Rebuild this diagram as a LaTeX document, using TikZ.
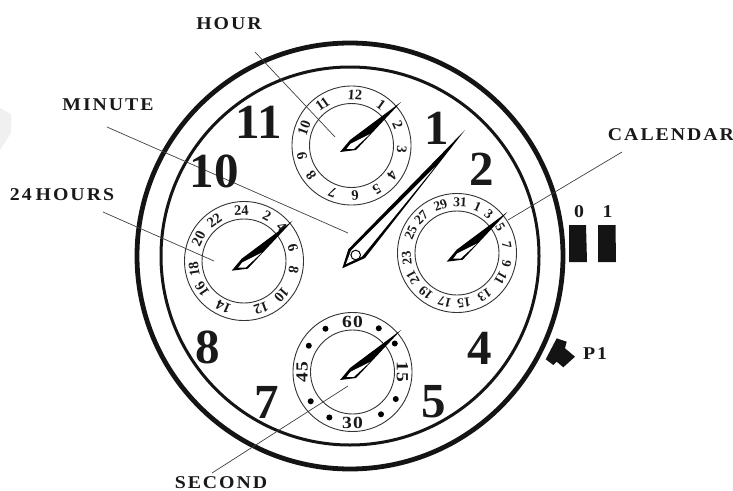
\documentclass[tikz,border=0pt]{standalone}
\usepackage{fontspec}
\setmainfont{Liberation Serif}
\newfontfamily\lblfont[FakeStretch=1.1,LetterSpace=11]{Liberation Serif Bold}
\newfontfamily\secfont[FakeStretch=1.15,LetterSpace=8]{Liberation Serif Bold}
\usetikzlibrary{calc}
\newcommand{\dialnums}[3]{%
  \foreach \a/\t in {#3}{\node[dialnum,rotate=-\a] at ($(#1,#2)+({sin(\a)*50.5},{-cos(\a)*50.5})$) {\t};}}
\newcommand{\subhand}[2]{%
  \begin{scope}[shift={(#1,#2)}]
    \fill[black] (0,0)--(10,-12)--(61,-50)--(16,-2)--cycle;
    \fill[white] (6.5,-3)--(10.5,-8.2)--(30,-18)--(14,-3.2)--cycle;
  \end{scope}}
\tikzset{
  dialring/.style={draw=black!80,line width=0.9pt},
  dialnum/.style={font=\fontsize{14.5}{14.5}\selectfont\bfseries,inner sep=0pt,text=black!90},
  secnum/.style={font=\fontsize{17}{17}\secfont,inner sep=0pt,text=black!90},
  bignum/.style={font=\fontsize{49}{49}\selectfont\bfseries,inner sep=0pt,text=black!90},
  lbl/.style={font=\fontsize{18}{18}\lblfont,inner sep=0pt,text=black!90},
  leader/.style={draw=black!75,line width=0.7pt},
}
\begin{document}
\begin{tikzpicture}[x=1pt,y=-1pt]
\useasboundingbox (0,0) rectangle (733,490);
\fill[black!6] (0,108)--(11,114)--(11,133)--(0,150)--cycle;
% watch case
\draw[line width=4.8pt,black!92] (350,256) circle[radius=213];
\draw[line width=3pt,black!92] (350,256) circle[radius=189];
% labels
\node[lbl] (hour) at (229,24) {HOUR};
\node[lbl] (minute) at (108,105) {MINUTE};
\node[lbl] (h24) at (62,195) {24\hspace{4pt}HOURS};
\node[lbl] (cal) at (671,135) {CALENDAR};
\node[lbl] (sec) at (221,483) {SECOND};
\node[lbl] (p1) at (595,354) {P1};
% leaders
\coordinate (ehour) at (335,137);
\coordinate (eminute) at (348,233);
\coordinate (eh24) at (214,261);
\coordinate (ecal) at (508,220);
\coordinate (esec) at (348,386);
\coordinate (shour) at (255,52);
\coordinate (sminute) at (107,127);
\coordinate (sh24) at (103,212);
\coordinate (scal) at (622,152);
\coordinate (ssec) at (212,473);
\draw[leader] (shour)--(ehour);
\draw[leader] (sminute)--(eminute);
\draw[leader] (sh24)--(eh24);
\draw[leader] (scal)--(ecal);
\draw[leader] (ssec)--(esec);
% big numerals
\node[bignum] (n11) at (259,122) {11};
\node[bignum] (n10) at (214,171) {10};
\node[bignum] (n1) at (437,128) {1};
\node[bignum] (n2) at (482,169) {2};
\node[bignum] (n4) at (480,348) {4};
\node[bignum] (n5) at (434,402) {5};
\node[bignum] (n7) at (267,402) {7};
\node[bignum] (n8) at (208,347) {8};
% sub dials
\foreach \cx/\cy in {351.5/145.5,244/261,457/253,352.5/372}{
  \draw[dialring] (\cx,\cy) circle[radius=59.5];
  \draw[dialring] (\cx,\cy) circle[radius=42];
}
\dialnums{351.5}{145.5}{4/12,36/1,66/2,95/3,126/4,150/5,176/6,202/7,233/8,258/9,290/10,325/11}
\dialnums{244}{261}{357/24,27/2,48/4,75/6,100/8,132/10,160/12,204/14,236/16,261/18,296/20,324/22}
\begin{scope}[dialnum/.append style={font=\fontsize{13.5}{13.5}\selectfont\bfseries}]
\dialnums{457}{253}{24/1,39/3,59/5,81/7,102/9,120/11,147/13,172/15,194/17,218/19,241/21,264/23,294/25,315/27,341/29,3.5/31}
\end{scope}
\node[secnum] (s60) at (352.5,322) {60};
\node[secnum,rotate=-90] (s15) at (402.5,372) {15};
\node[secnum] (s30) at (352.5,423) {30};
\node[secnum,rotate=90] (s45) at (302,372) {45};
\foreach \a in {31,56,122,146,207,235,301,328}
  \fill[black] ($(352.5,372)+({sin(\a)*51},{-cos(\a)*51})$) circle[radius=3];
% sub hands
\subhand{340}{152}
\subhand{231.7}{270.7}
\subhand{446.7}{261.7}
\subhand{340}{380}
% main hand
\fill[black] (342.3,268.3)--(348.3,249.3)--(465,130)--(365,258)--cycle;
\fill[white] (346,264)--(351,250.5)--(435,167)--(362,256.5)--cycle;
\draw[line width=1pt,black] (355.7,255) circle[radius=4.8];
% buttons
\node[lbl] (z0) at (579,212) {0};
\node[lbl] (z1) at (607.5,212) {1};
\fill[black!92] (569,225)--(586,225)--(587,262)--(569,262)--cycle;
\fill[black!92] (598,225)--(615.5,225)--(616,262)--(598,262)--cycle;
\fill[black!92] (545.7,359.3)--(556.7,338.3)--(566.7,341.7)--(565,348.3)--(575,356.7)--(563.3,367.3)--(556.7,361.7)--(553.3,365)--cycle;
\end{tikzpicture}
\end{document}
